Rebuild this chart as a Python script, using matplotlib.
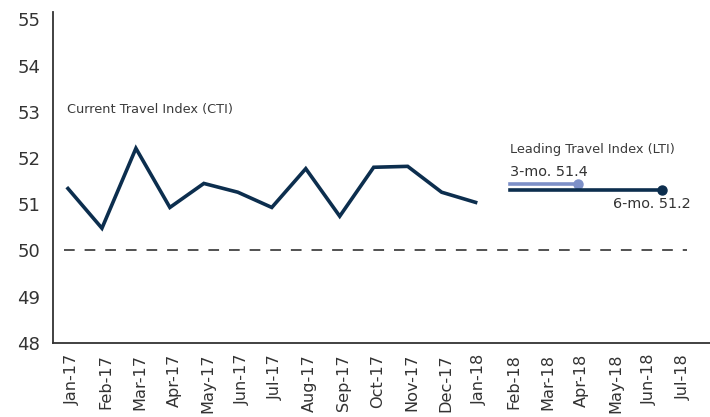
import matplotlib
matplotlib.use("Agg")
import matplotlib.pyplot as plt
import matplotlib.transforms as mtransforms
import numpy as np

months = ["Jan-17", "Feb-17", "Mar-17", "Apr-17", "May-17", "Jun-17", "Jul-17",
          "Aug-17", "Sep-17", "Oct-17", "Nov-17", "Dec-17", "Jan-18", "Feb-18",
          "Mar-18", "Apr-18", "May-18", "Jun-18", "Jul-18"]
cti = [51.34, 50.48, 52.21, 50.93, 51.45, 51.26, 50.93, 51.77, 50.74, 51.80,
       51.82, 51.26, 51.04]
lti_3mo_x = [13, 15]
lti_3mo = [51.44, 51.44]
lti_6mo_x = [13, 17.5]
lti_6mo = [51.31, 51.31]

NAVY = "#0c2e4e"
LIGHT = "#7d90c8"
TEXT = "#333333"


def main():
    plt.rcParams['font.family'] = ['DejaVu Sans']
    fig = plt.figure(figsize=(7.1, 4.17), dpi=100)
    ax = fig.add_axes([0.0742, 0.178, 0.9258, 0.793])

    x = np.arange(len(cti))
    ax.plot(x, cti, color=NAVY, lw=2.6, solid_joinstyle='miter')
    ax.axhline(50, xmin=0.017, xmax=0.965, color="#222222", lw=1.1, ls=(0, (7, 6.5)))

    ax.plot(lti_3mo_x, lti_3mo, color=LIGHT, lw=2.6)
    ax.plot(lti_3mo_x[-1], lti_3mo[-1], 'o', color=LIGHT, ms=6.5)
    ax.plot(lti_6mo_x, lti_6mo, color=NAVY, lw=2.6)
    ax.plot(lti_6mo_x[-1], lti_6mo[-1], 'o', color=NAVY, ms=6.5)

    ax.text(-0.03, 53.06, "Current Travel Index (CTI)", fontsize=9.3, color="#3a3a3a",
            va='center', ha='left')
    ax.text(13.0, 52.19, "Leading Travel Index (LTI)", fontsize=9.3, color="#3a3a3a",
            va='center', ha='left')
    ax.text(13.0, 51.69, "3-mo. 51.4", fontsize=10.4, color=TEXT, va='center', ha='left')
    ax.text(18.32, 51.0, "6-mo. 51.2", fontsize=10.4, color=TEXT, va='center', ha='right')

    ax.set_xlim(-0.45, 18.9)
    ax.set_ylim(48, 55.16)
    ax.set_yticks(range(48, 56))
    ax.set_xticks(np.arange(len(months)))
    ax.set_xticklabels(months, rotation=90)
    ax.tick_params(axis='both', length=0, colors=TEXT)
    ax.tick_params(axis='y', labelsize=13, pad=9)
    ax.tick_params(axis='x', labelsize=11.6, pad=8)
    shift = mtransforms.ScaledTranslation(4 / 100, 0, fig.dpi_scale_trans)
    for lbl in ax.get_xticklabels():
        lbl.set_transform(lbl.get_transform() + shift)

    for side in ["top", "right"]:
        ax.spines[side].set_visible(False)
    for side in ["left", "bottom"]:
        ax.spines[side].set_color("#333333")
        ax.spines[side].set_linewidth(1.3)

    fig.savefig("out.png", dpi=100)


if __name__ == '__main__':
    main()
